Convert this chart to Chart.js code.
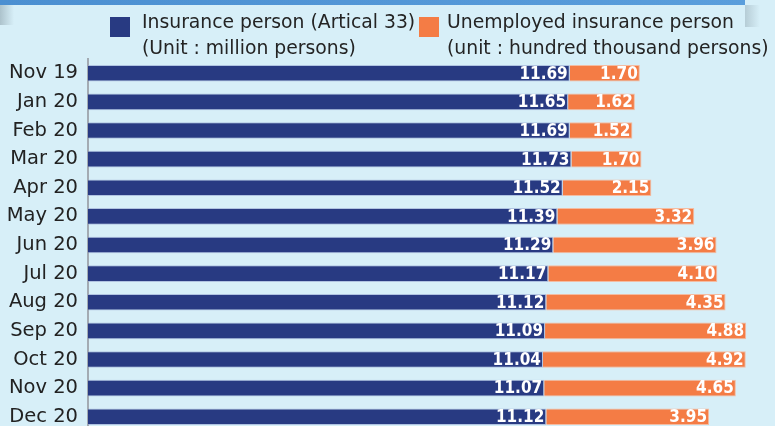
<!DOCTYPE html>
<html>
<head>
<meta charset="utf-8">
<script src="https://cdn.jsdelivr.net/npm/chart.js@4.4.1/dist/chart.umd.min.js"></script>
<style>
  html, body { margin: 0; padding: 0; overflow: hidden; background: #d7eff8; }
  #wrap { width: 775px; height: 431px; position: relative; }
</style>
</head>
<body>
<div id="wrap"><canvas id="barChart" width="775" height="431"></canvas></div>
<script>
  const months = ['Nov 19', 'Jan 20', 'Feb 20', 'Mar 20', 'Apr 20', 'May 20', 'Jun 20',
                  'Jul 20', 'Aug 20', 'Sep 20', 'Oct 20', 'Nov 20', 'Dec 20'];
  const insured = [11.69, 11.65, 11.69, 11.73, 11.52, 11.39, 11.29, 11.17, 11.12, 11.09, 11.04, 11.07, 11.12];
  const unemployed = [1.70, 1.62, 1.52, 1.70, 2.15, 3.32, 3.96, 4.10, 4.35, 4.88, 4.92, 4.65, 3.95];
  const legendLines = [
    ['Insurance person (Artical 33)', '(Unit : million persons)'],
    ['Unemployed insurance person', '(unit : hundred thousand persons)']
  ];

  const BLUE = '#283a82';
  const ORANGE = '#f47c45';

  // background, top band and legend
  const decor = {
    id: 'decor',
    beforeDraw(chart) {
      const c = chart.ctx;
      c.save();
      c.fillStyle = '#d7eff8';
      c.fillRect(0, 0, chart.width, chart.height);
      // left shadow under band
      let g = c.createLinearGradient(0, 0, 14, 0);
      g.addColorStop(0, 'rgba(120,140,150,0.45)');
      g.addColorStop(1, 'rgba(120,140,150,0)');
      c.fillStyle = g;
      c.fillRect(0, 5, 14, 20);
      // right shadow
      g = c.createLinearGradient(745, 0, 760, 0);
      g.addColorStop(0, 'rgba(120,140,150,0.35)');
      g.addColorStop(1, 'rgba(120,140,150,0)');
      c.fillStyle = g;
      c.fillRect(745, 5, 15, 22);
      // band
      g = c.createLinearGradient(0, 0, 745, 0);
      g.addColorStop(0, '#4b8fd1');
      g.addColorStop(1, '#5a9edc');
      c.fillStyle = g;
      c.fillRect(0, 0, 745, 5);
      c.restore();
    },
    afterDraw(chart) {
      const c = chart.ctx;
      c.save();
      c.fillStyle = BLUE;
      c.fillRect(110, 17, 20, 20);
      c.fillStyle = ORANGE;
      c.fillRect(419, 17, 20, 20);
      c.fillStyle = '#242424';
      c.font = '18.8px "DejaVu Sans"';
      c.textBaseline = 'alphabetic';
      c.textAlign = 'left';
      c.fillText(legendLines[0][0], 142, 28);
      c.fillText(legendLines[0][1], 142, 54);
      c.fillText(legendLines[1][0], 447, 28);
      c.fillText(legendLines[1][1], 447, 54);
      c.restore();
    }
  };

  // white value labels at the end of each segment
  const valueLabels = {
    id: 'valueLabels',
    afterDatasetsDraw(chart) {
      const c = chart.ctx;
      c.save();
      c.fillStyle = '#ffffff';
      c.font = 'bold 17px "DejaVu Sans Condensed", "DejaVu Sans"';
      c.textAlign = 'right';
      c.textBaseline = 'middle';
      chart.data.datasets.forEach((ds, i) => {
        chart.getDatasetMeta(i).data.forEach((bar, j) => {
          c.fillText(ds.data[j].toFixed(2), bar.x - 2, bar.y + 1);
        });
      });
      c.restore();
    }
  };

  const ctx = document.getElementById('barChart');
  new Chart(ctx, {
    type: 'bar',
    data: {
      labels: months,
      datasets: [{
        label: legendLines[0].join(' '),
        data: insured,
        backgroundColor: BLUE,
        borderColor: 'rgba(150,165,210,0.6)',
        borderWidth: 1,
        barPercentage: 0.58,
        categoryPercentage: 1
      }, {
        label: legendLines[1].join(' '),
        data: unemployed,
        backgroundColor: ORANGE,
        borderColor: 'rgba(250,175,140,0.8)',
        borderWidth: 1,
        barPercentage: 0.58,
        categoryPercentage: 1
      }]
    },
    options: {
      indexAxis: 'y',
      responsive: false,
      animation: false,
      devicePixelRatio: 1,
      layout: { padding: { top: 59, bottom: 0, left: 0, right: 0 } },
      plugins: {
        legend: { display: false },
        tooltip: { enabled: false }
      },
      scales: {
        x: {
          stacked: true,
          display: false,
          min: 0,
          max: 16.67
        },
        y: {
          stacked: true,
          grid: { display: false, drawTicks: false },
          border: { display: true, color: '#a3abb3', width: 2 },
          ticks: {
            color: '#222222',
            padding: 10,
            font: { family: 'DejaVu Sans', size: 19.5 }
          },
          afterFit(scale) {
            scale.width = 88;
            scale.paddingTop = 0;
            scale.paddingBottom = 0;
          }
        }
      }
    },
    plugins: [decor, valueLabels]
  });
</script>
</body>
</html>
